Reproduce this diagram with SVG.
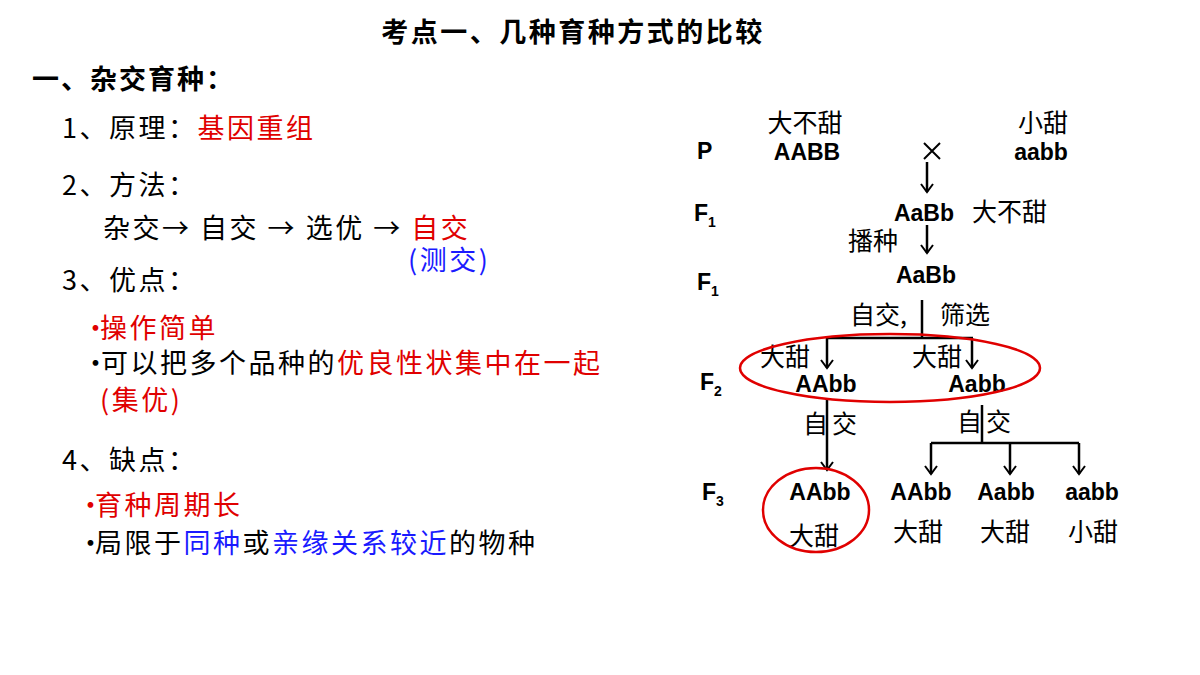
<svg xmlns="http://www.w3.org/2000/svg" width="1200" height="675" viewBox="0 0 1200 675">
<defs>
<marker id="ah" markerWidth="14" markerHeight="14" refX="11" refY="7" orient="auto" markerUnits="userSpaceOnUse" viewBox="0 0 14 14"><path d="M3,1 L11,7 L3,13" fill="none" stroke="#000" stroke-width="2"/></marker>
<style>
text{font-family:"Liberation Sans","Noto Sans CJK SC",sans-serif;}
.t{font-size:27px;letter-spacing:2.5px;fill:#000;font-family:"Noto Sans CJK SC",sans-serif}
.r{fill:#e00000}.b{fill:#1a1aff}
.g{font-size:23px;font-weight:bold}
.c{font-size:25px;font-family:"Noto Sans CJK SC",sans-serif}
.ln{stroke:#000;stroke-width:2.5;fill:none}
</style>
</defs>
<rect width="1200" height="675" fill="#fff"/>
<text x="573" y="42" text-anchor="middle" style="font-size:27px;letter-spacing:2.5px;font-weight:bold;font-family:'Noto Sans CJK SC',sans-serif">考点一、几种育种方式的比较</text>
<text x="32" y="89" style="font-size:27px;letter-spacing:2px;font-weight:bold;font-family:'Noto Sans CJK SC',sans-serif">一、杂交育种：</text>
<g>
<text x="62" y="138" class="t">1、原理：<tspan class="r">基因重组</tspan></text>
<text x="62" y="195" class="t">2、方法：</text>
<text x="103" y="238" class="t">杂交→ 自交 → 选优  → <tspan class="r">自交</tspan></text>
<text x="408" y="270" class="t b">(测交)</text>
<text x="62" y="290" class="t">3、优点：</text>
<text x="82" y="338" class="t r">·</text><text x="100" y="338" class="t r">操作简单</text>
<text x="82" y="373" class="t">·</text><text x="101" y="373" class="t">可以把多个品种的<tspan class="r">优良性状集中在一起</tspan></text>
<text x="100" y="410" class="t r">(集优)</text>
<text x="62" y="470" class="t">4、缺点：</text>
<text x="77" y="515" class="t r">·</text><text x="95" y="515" class="t r">育种周期长</text>
<text x="77" y="553" class="t">·</text><text x="95" y="553" class="t">局限于<tspan class="b">同种</tspan>或<tspan class="b">亲缘关系较近</tspan>的物种</text>
</g>
<g id="labels" class="g">
<text x="697" y="159">P</text>
<text x="694" y="221">F<tspan font-size="14" dy="6">1</tspan></text>
<text x="697" y="290">F<tspan font-size="14" dy="6">1</tspan></text>
<text x="700" y="390">F<tspan font-size="14" dy="6">2</tspan></text>
<text x="702" y="500">F<tspan font-size="14" dy="6">3</tspan></text>
</g>
<g id="p1"><text x="805" y="132" class="c" text-anchor="middle">大不甜</text><text x="807" y="160" class="g" text-anchor="middle">AABB</text></g>
<g id="p2"><text x="1043" y="132" class="c" text-anchor="middle">小甜</text><text x="1041" y="160" class="g" text-anchor="middle">aabb</text></g>
<path d="M924,143 L940,159 M940,143 L924,159" stroke="#000" stroke-width="2" fill="none"/>
<g id="f1a"><text x="924" y="221" class="g" text-anchor="middle">AaBb</text><text x="972" y="221" class="c">大不甜</text></g>
<g id="f1b"><text x="926" y="283" class="g" text-anchor="middle">AaBb</text></g>
<text x="848" y="250" class="c">播种</text>
<text x="850" y="324" class="c">自交,</text><text x="940" y="324" class="c">筛选</text>
<g id="f2a"><text x="760" y="366" class="c">大甜</text><text x="826" y="392" class="g" text-anchor="middle">AAbb</text></g>
<g id="f2b"><text x="912" y="366" class="c">大甜</text><text x="977" y="392" class="g" text-anchor="middle">Aabb</text></g>
<text x="803" y="433" class="c">自</text><text x="832" y="433" class="c">交</text>
<text x="957" y="431" class="c">自</text><text x="986" y="431" class="c">交</text>
<g id="f3a"><text x="820" y="500" class="g" text-anchor="middle">AAbb</text><text x="814" y="545" class="c" text-anchor="middle">大甜</text></g>
<g id="f3b"><text x="921" y="500" class="g" text-anchor="middle">AAbb</text><text x="918" y="541" class="c" text-anchor="middle">大甜</text></g>
<g id="f3c"><text x="1006" y="500" class="g" text-anchor="middle">Aabb</text><text x="1005" y="541" class="c" text-anchor="middle">大甜</text></g>
<g id="f3d"><text x="1092" y="500" class="g" text-anchor="middle">aabb</text><text x="1093" y="541" class="c" text-anchor="middle">小甜</text></g>
<g id="connectors" class="ln">
<line x1="927" y1="162" x2="927" y2="192" marker-end="url(#ah)"/>
<line x1="927" y1="225" x2="927" y2="253" marker-end="url(#ah)"/>
<line x1="922" y1="300" x2="922" y2="338"/>
<line x1="827" y1="338" x2="973" y2="338"/>
<line x1="827" y1="338" x2="827" y2="368" marker-end="url(#ah)"/>
<line x1="972" y1="338" x2="972" y2="368" marker-end="url(#ah)"/>
<line x1="827" y1="400" x2="827" y2="470" marker-end="url(#ah)"/>
<line x1="982" y1="405" x2="982" y2="443"/>
<line x1="931" y1="443" x2="1079" y2="443"/>
<line x1="931" y1="443" x2="931" y2="474" marker-end="url(#ah)"/>
<line x1="1010" y1="443" x2="1010" y2="474" marker-end="url(#ah)"/>
<line x1="1079" y1="443" x2="1079" y2="474" marker-end="url(#ah)"/>
</g>
<ellipse cx="890" cy="368" rx="150" ry="34" fill="none" stroke="#e00000" stroke-width="2.5"/>
<ellipse cx="816" cy="510" rx="53" ry="42" fill="none" stroke="#e00000" stroke-width="2.5"/>
</svg>
